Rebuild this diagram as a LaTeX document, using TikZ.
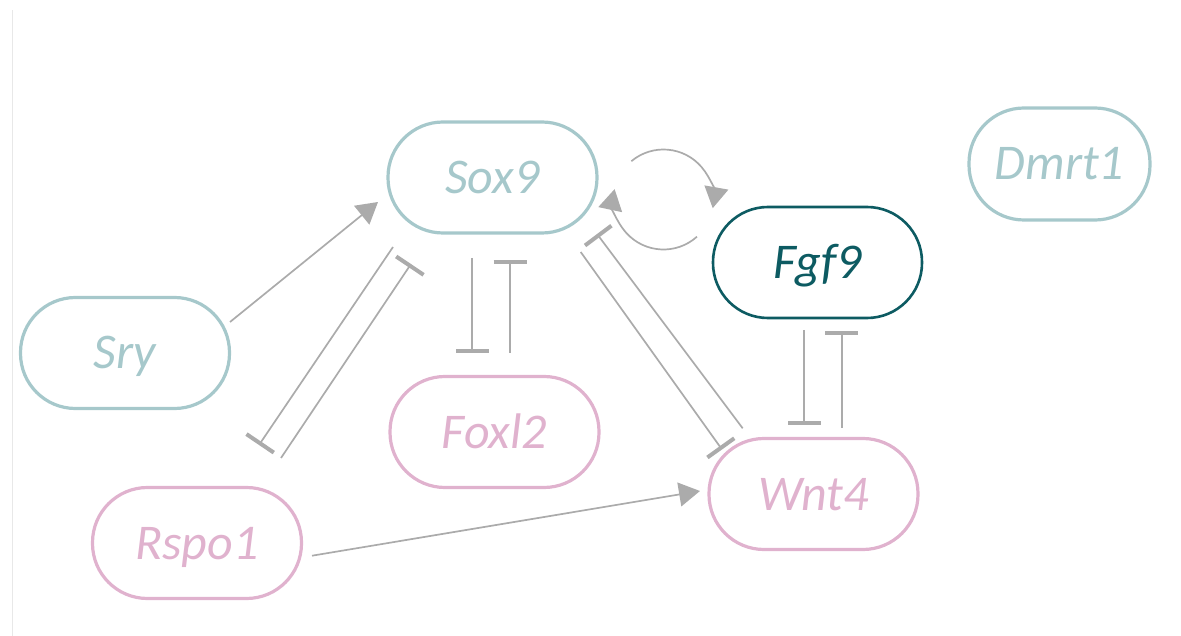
\documentclass[tikz,border=0pt]{standalone}
\usepackage{fontspec}
\setmainfont{Carlito}
\usetikzlibrary{arrows.meta,calc}
\definecolor{tealL}{HTML}{A6C8CB}
\definecolor{pinkL}{HTML}{E0B2CE}
\definecolor{tealD}{HTML}{0D5B62}
\definecolor{edgeG}{HTML}{ABABAB}
\begin{document}
\begin{tikzpicture}[x=1pt,y=-1pt,
  gene/.style={rectangle, rounded corners=55pt, minimum width=209pt, minimum height=111pt,
    line width=3.2pt, inner sep=0pt, font=\fontsize{50}{53}\selectfont\itshape,
    text height=32pt, text depth=0pt},
  tealnode/.style={gene, draw=tealL, text=tealL},
  pinknode/.style={gene, draw=pinkL, text=pinkL},
  darknode/.style={gene, draw=tealD, text=tealD, line width=2.6pt},
  act/.style={draw=edgeG, line width=1.7pt, -{Triangle[length=21pt,width=24pt]}},
  inh/.style={draw=edgeG, line width=1.7pt, -{Bar[width=33pt,line width=4pt]}}
]
\useasboundingbox (0,0) rectangle (1181,636);
\draw[line width=1pt, draw=black!9] (12.5,10) -- (12.5,636);

\node[tealnode] (sox) at (492.5,177.5) {Sox9};
\node[tealnode, minimum width=181pt, minimum height=112pt] (dmrt) at (1059.5,164) {Dmrt1};
\node[darknode] (fgf) at (817.5,262.5) {Fgf9};
\node[tealnode] (sry) at (125,353) {Sry};
\node[pinknode] (foxl) at (494.5,432) {Foxl2};
\node[pinknode] (rspo) at (197,543) {Rspo1};
\node[pinknode] (wnt) at (813.5,494) {Wnt4};

\draw[act] ([shift={(105,-31)}]sry.center) -- ([shift={(-114.5,24.5)}]sox.center);
\draw[act] ([shift={(115,12.7)}]rspo.center) -- ([shift={(-113.5,-3)}]wnt.center);

\draw[inh] ([shift={(-99.5,69.5)}]sox.center) -- ([shift={(62,-98)}]rspo.center);
\draw[inh] ([shift={(84,-85)}]rspo.center) -- ([shift={(-81.5,86.5)}]sox.center);

\draw[inh] ([shift={(-20.5,80.5)}]sox.center) -- ([shift={(-22.5,-79)}]foxl.center);
\draw[inh] ([shift={(15.5,-79)}]foxl.center) -- ([shift={(17.5,82.5)}]sox.center);

\draw[inh] ([shift={(88.2,74.5)}]sox.center) -- ([shift={(-91.5,-44.5)}]wnt.center);
\draw[inh] ([shift={(-70.8,-65.7)}]wnt.center) -- ([shift={(104.5,56.5)}]sox.center);

\draw[inh] ([shift={(-13.5,67.5)}]fgf.center) -- ([shift={(-9.5,-69)}]wnt.center);
\draw[inh] ([shift={(28.2,-66.3)}]wnt.center) -- ([shift={(24.2,68.5)}]fgf.center);

\coordinate (cyc) at (663.5,199.5);
\draw[act] ([shift={(130:50pt)}]cyc) arc[start angle=130, end angle=-10, radius=50pt];
\draw[act] ([shift={(-48:50pt)}]cyc) arc[start angle=-48, end angle=-192, radius=50pt];
\end{tikzpicture}
\end{document}
